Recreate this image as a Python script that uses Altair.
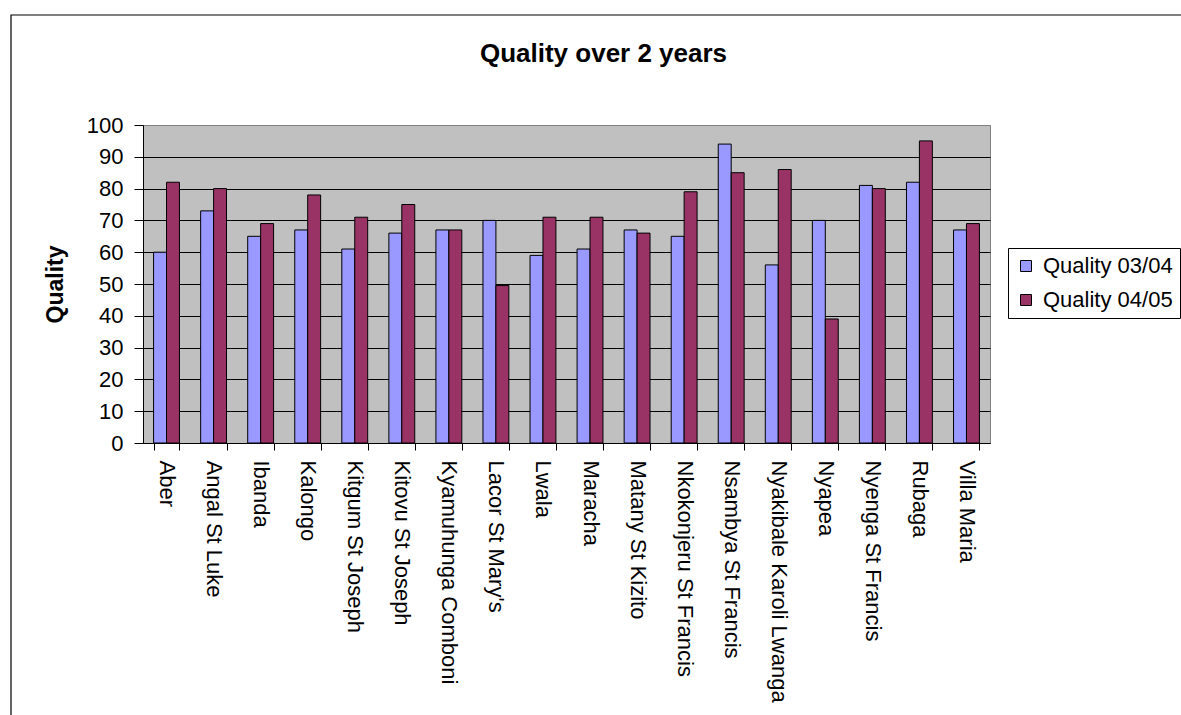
import altair as alt
import pandas as pd

categories = ["Aber", "Angal St Luke", "Ibanda", "Kalongo", "Kitgum St Joseph",
              "Kitovu St Joseph", "Kyamuhunga Comboni", "Lacor St Mary's", "Lwala",
              "Maracha", "Matany St Kizito", "Nkokonjeru St Francis", "Nsambya St Francis",
              "Nyakibale Karoli Lwanga", "Nyapea", "Nyenga St Francis", "Rubaga", "Villa Maria"]
quality_0304 = [60, 73, 65, 67, 61, 66, 67, 70, 59, 61, 67, 65, 94, 56, 70, 81, 82, 67]
quality_0405 = [82, 80, 69, 78, 71, 75, 67, 49.5, 71, 71, 66, 79, 85, 86, 39, 80, 95, 69]
series = ["Quality 03/04", "Quality 04/05"]
colors = ["#9999FF", "#993366"]
chart_title = "Quality over 2 years"

rows = []
for i, c in enumerate(categories):
    rows.append({"hospital": c, "series": series[0], "value": quality_0304[i]})
    rows.append({"hospital": c, "series": series[1], "value": quality_0405[i]})
df = pd.DataFrame(rows)

FONT = "Liberation Sans"
W, H = 847, 318
PL, PT = 143, 125

bars = alt.Chart(df).mark_bar(stroke="black", strokeWidth=1).encode(
    x=alt.X("hospital:N", sort=categories,
            scale=alt.Scale(paddingInner=0.45, paddingOuter=0.225),
            axis=alt.Axis(title=None, labelAngle=90, labelAlign="left", labelBaseline="middle",
                          labelFontSize=22, labelColor="black", labelFont=FONT,
                          tickBand="extent", tickSize=7, tickColor="black",
                          domainColor="black", labelPadding=10, grid=False,
                          labelLimit=400)),
    xOffset=alt.XOffset("series:N", sort=series, scale=alt.Scale(paddingInner=0, paddingOuter=0)),
    y=alt.Y("value:Q", scale=alt.Scale(domain=[0, 100], nice=False),
            axis=alt.Axis(title="Quality", values=list(range(0, 101, 10)),
                          labelFontSize=22, labelColor="black", labelFont=FONT,
                          titleFontSize=23, titleFontWeight="bold", titleColor="black",
                          titleFont=FONT, titlePadding=19,
                          tickSize=9, tickColor="black", labelPadding=11,
                          domainColor="black",
                          grid=True,
                          gridColor={"condition": {"test": "datum.value === 100", "value": "#808080"},
                                     "value": "black"},
                          gridWidth=1, gridOpacity=1)),
    color=alt.Color("series:N", sort=series,
                    scale=alt.Scale(domain=series, range=colors),
                    legend=alt.Legend(title=None, orient="none", legendX=865, legendY=123,
                                      symbolType="square", symbolSize=121,
                                      symbolStrokeColor="black", symbolStrokeWidth=1,
                                      symbolOpacity=1,
                                      labelFontSize=22, labelFont=FONT, labelColor="black",
                                      labelLimit=400, labelOffset=6,
                                      strokeColor="black", fillColor="white",
                                      padding=7, rowPadding=12)),
)

title_layer = alt.Chart(alt.Data(values=[{"t": chart_title}])).mark_text(
    font=FONT, fontSize=26, fontWeight="bold", color="black",
    align="center", baseline="alphabetic"
).encode(
    text="t:N",
    x=alt.value(603.5 - PL), y=alt.value(62 - PT),
)

frame = alt.Chart(alt.Data(values=[{}])).mark_rect(
    fill="transparent", stroke="black", strokeWidth=1.2
).encode(
    x=alt.value(11 - PL), y=alt.value(15 - PT),
    x2=alt.value(1181 - PL + 30), y2=alt.value(715 - PT + 30),
)

chart = alt.layer(bars, title_layer, frame).properties(
    width=W, height=H,
    autosize=alt.AutoSizeParams(type="none"),
    padding={"left": PL, "top": PT, "right": 1181 - PL - W, "bottom": 715 - PT - H},
    background="white",
).configure_view(
    fill="#C0C0C0", stroke="#808080", strokeWidth=1
)

chart.save("out.html", embed_options={"renderer": "svg", "actions": False})
